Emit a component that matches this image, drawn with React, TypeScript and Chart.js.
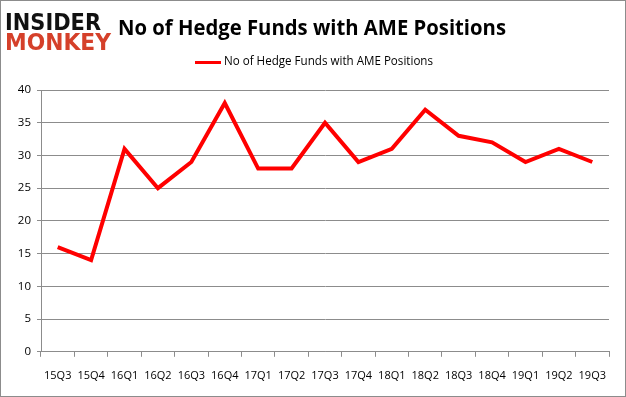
import React, { useEffect, useRef } from "react";
import { Chart, registerables } from "chart.js";

Chart.register(...registerables);

const categories = ["15Q3","15Q4","16Q1","16Q2","16Q3","16Q4","17Q1","17Q2","17Q3","17Q4","18Q1","18Q2","18Q3","18Q4","19Q1","19Q2","19Q3"];
const hedgeFunds = [16,14,31,25,29,38,28,28,35,29,31,37,33,32,29,31,29];
const seriesName = "No of Hedge Funds with AME Positions";
const titleText = "No of Hedge Funds with AME Positions";

const decorPlugin = {
  id: "decor",
  afterDraw(chart: any) {
    const ctx = chart.ctx;
    ctx.save();
    ctx.strokeStyle = "#8c8c8c";
    ctx.lineWidth = 1;
    ctx.strokeRect(0.5, 0.5, chart.width - 1, chart.height - 1);
    ctx.textBaseline = "alphabetic";
    ctx.textAlign = "left";
    ctx.fillStyle = "#111111";
    ctx.font = "bold 23px 'DejaVu Sans'";
    ctx.fillText("INSIDER", 5, 30, 96);
    ctx.fillStyle = "#d5402a";
    ctx.fillText("MONKEY", 5, 50, 106);
    ctx.fillStyle = "#000000";
    ctx.font = "bold 21px 'Open Sans'";
    ctx.textAlign = "center";
    ctx.fillText(titleText, 312, 35, 388);
    // legend
    ctx.strokeStyle = "#ff0000";
    ctx.lineWidth = 3;
    ctx.beginPath();
    ctx.moveTo(195, 62.5);
    ctx.lineTo(221, 62.5);
    ctx.stroke();
    ctx.fillStyle = "#000";
    ctx.textAlign = "left";
    ctx.textBaseline = "middle";
    ctx.font = "12px 'Open Sans'";
    ctx.fillText(seriesName, 224, 62, 209);
    ctx.restore();
  },
};

export default function App() {
  const ref = useRef<HTMLCanvasElement>(null);
  useEffect(() => {
    document.body.style.margin = "0";
    const chart = new Chart(ref.current!, {
      type: "line",
      data: {
        labels: categories,
        datasets: [
          {
            label: seriesName,
            data: hedgeFunds,
            borderColor: "#ff0000",
            backgroundColor: "#ff0000",
            borderWidth: 4,
            pointRadius: 0,
            tension: 0,
          },
        ],
      },
      options: {
        animation: false,
        responsive: false,
        layout: { padding: { top: 90, left: 6, right: 17, bottom: 3 } },
        plugins: {
          title: { display: false },
          tooltip: { enabled: false },
          legend: { display: false },
        },
        scales: {
          x: {
            offset: true,
            grid: {
              offset: true,
              drawOnChartArea: false,
              drawTicks: true,
              tickLength: 5,
              color: "#8c8c8c",
            },
            border: { color: "#8c8c8c" },
            ticks: {
              color: "#000",
              font: { family: "'Open Sans'", size: 11 },
              maxRotation: 0,
              autoSkip: false,
              padding: 12,
            },
          },
          y: {
            min: 0,
            max: 40,
            afterFit: (s: any) => { s.width = 35; },
            grid: { color: "#8c8c8c", tickLength: 4 },
            border: { color: "#8c8c8c" },
            ticks: {
              stepSize: 5,
              color: "#000",
              font: { family: "'Open Sans'", size: 11.5 },
              padding: 6,
            },
          },
        },
      },
      plugins: [decorPlugin],
    });
    return () => chart.destroy();
  }, []);
  return <canvas ref={ref} width={626} height={397} style={{ display: "block" }} />;
}
